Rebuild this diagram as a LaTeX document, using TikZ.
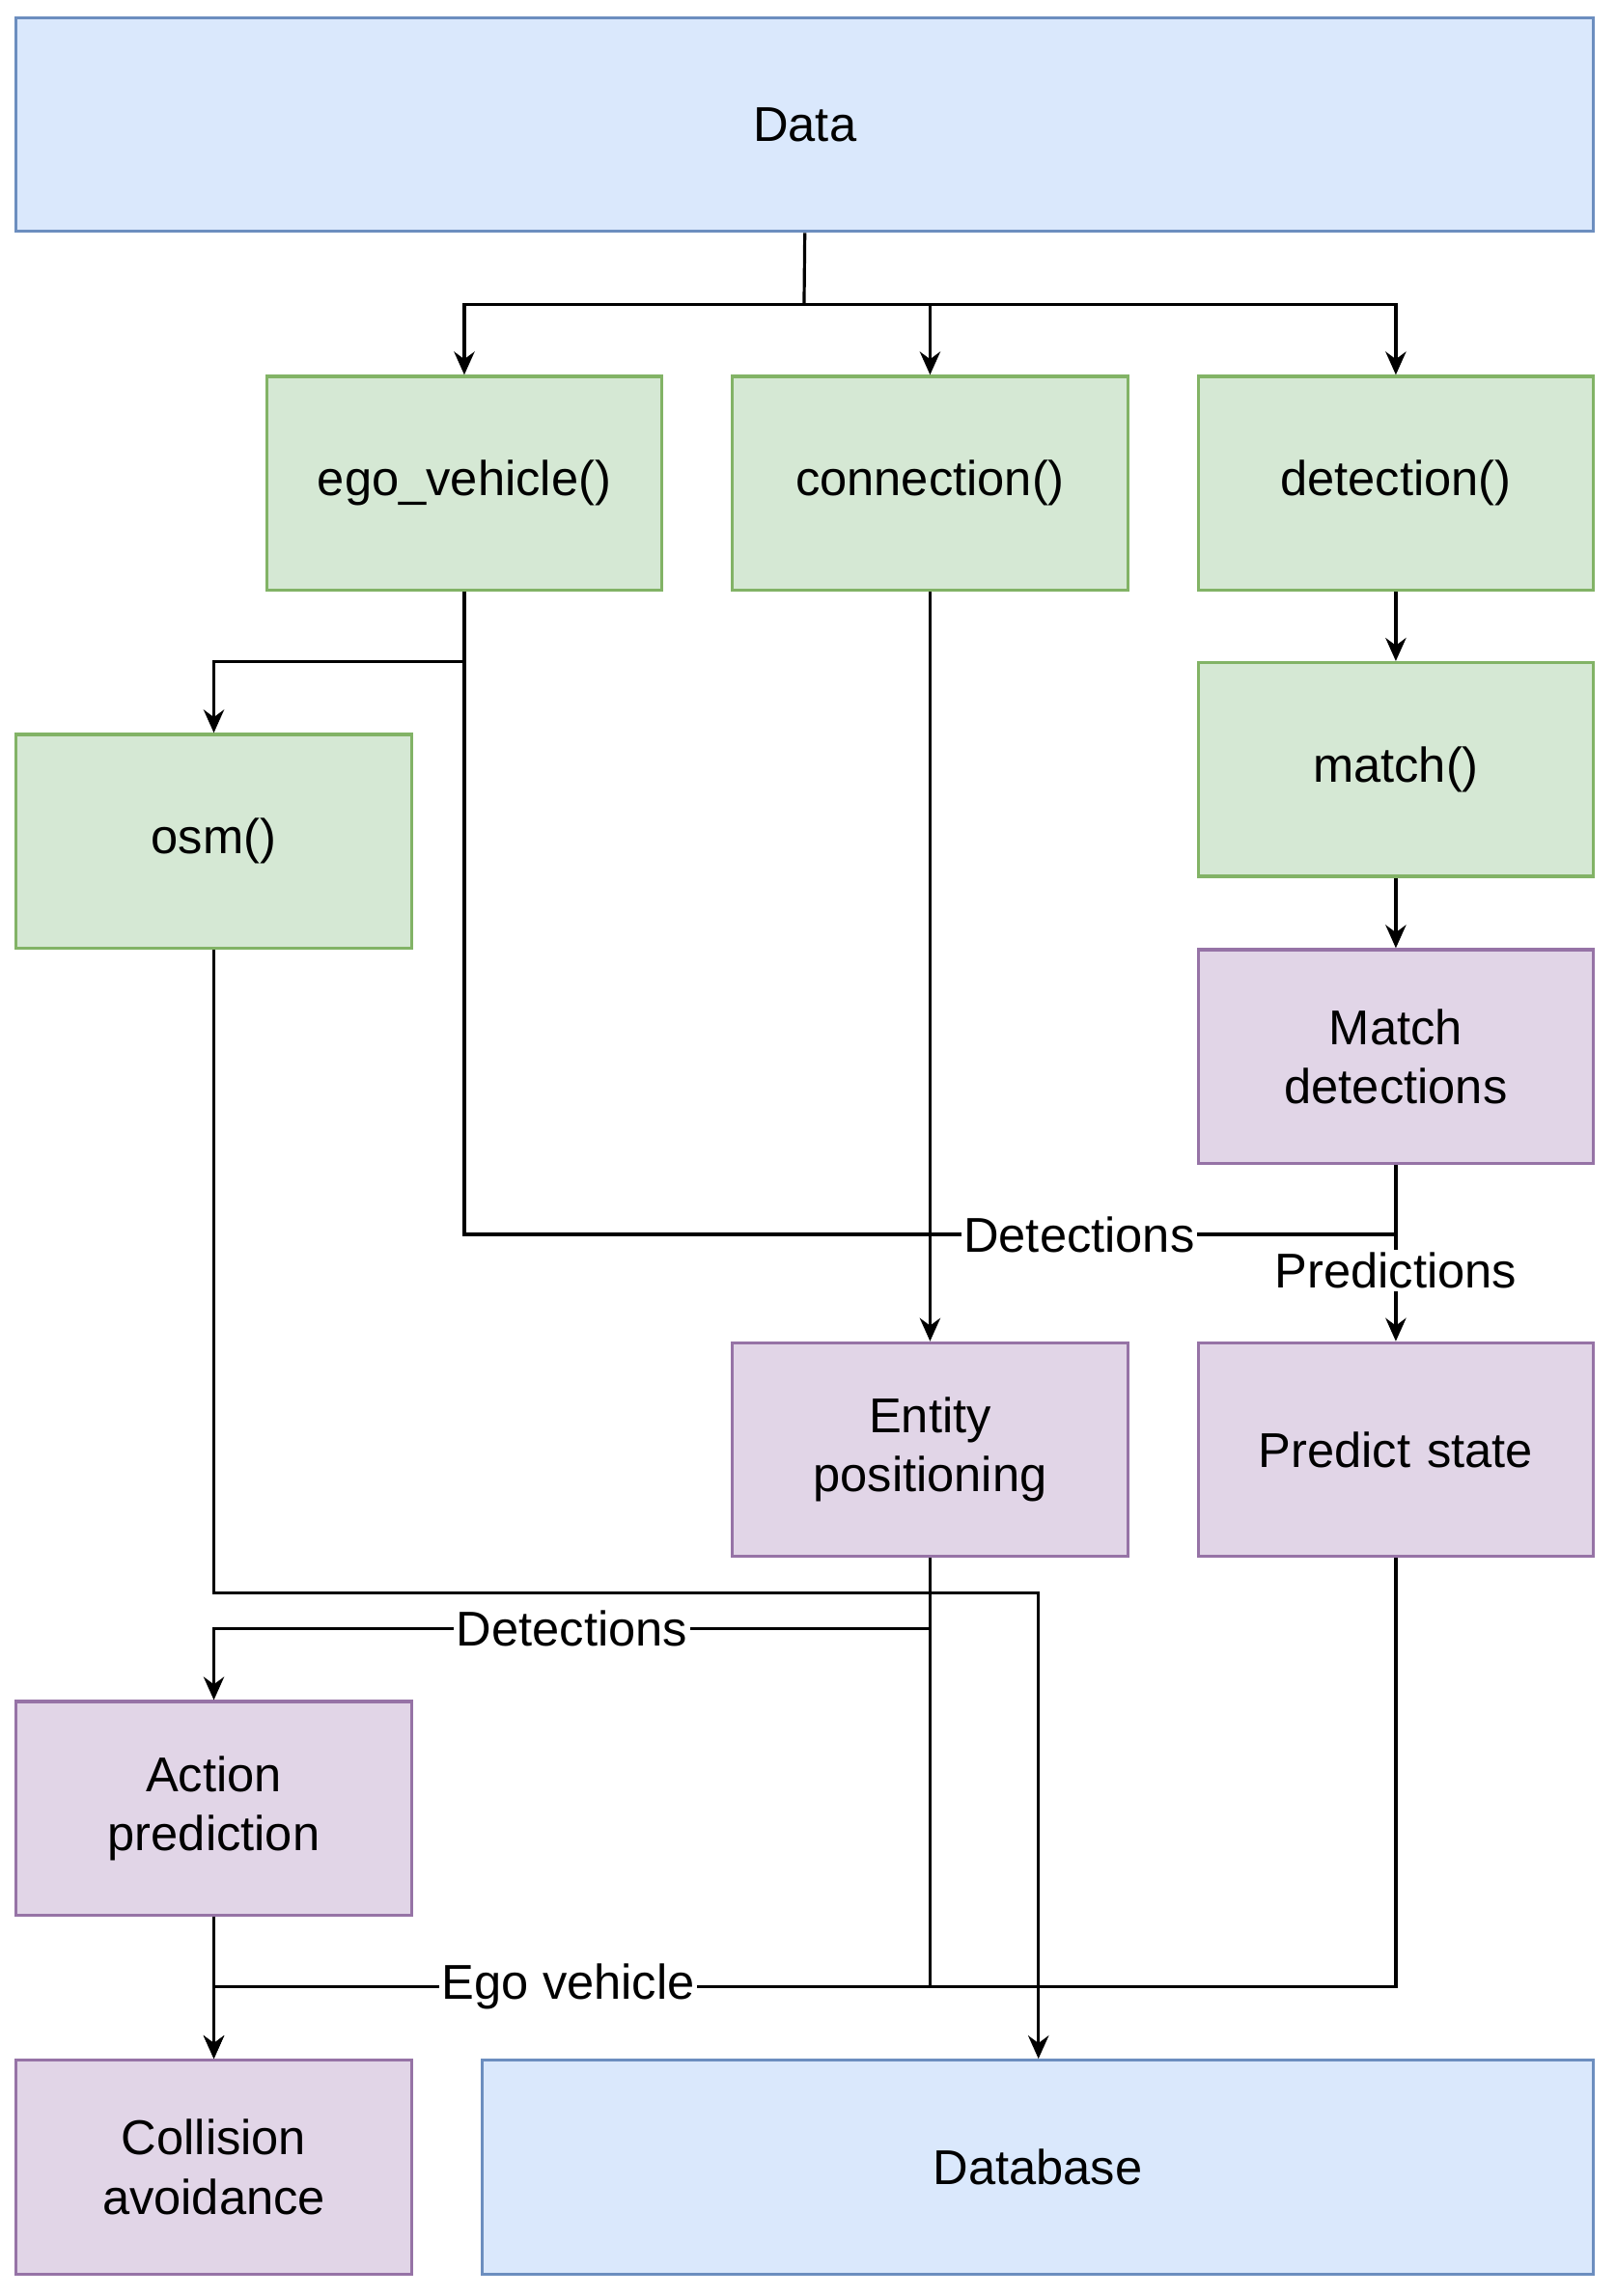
\documentclass[tikz,border=0pt]{standalone}
\usepackage{fontspec}
\setmainfont{Liberation Sans}
\usetikzlibrary{arrows.meta}
\definecolor{bluefill}{HTML}{DAE8FC}\definecolor{bluedraw}{HTML}{6C8EBF}
\definecolor{greenfill}{HTML}{D5E8D4}\definecolor{greendraw}{HTML}{82B366}
\definecolor{purplefill}{HTML}{E1D5E7}\definecolor{purpledraw}{HTML}{9673A6}
\tikzset{
  box/.style={draw,line width=1.2pt,minimum height=2.92cm,text width=5cm,align=center,
    font=\fontsize{19}{23}\selectfont,inner sep=0pt},
  bluebox/.style={box,fill=bluefill,draw=bluedraw},
  greenbox/.style={box,fill=greenfill,draw=greendraw,minimum width=5.4cm},
  purplebox/.style={box,fill=purplefill,draw=purpledraw,minimum width=5.4cm},
  line/.style={line width=1.2pt},
  arr/.style={line,-{Stealth[length=9pt,width=8pt]}},
  lbl/.style={fill=white,font=\fontsize{19}{23}\selectfont,inner sep=1pt}
}
\begin{document}
\begin{tikzpicture}[x=0.02cm,y=-0.02cm]
	\useasboundingbox (0,0) rectangle (1103,1568);

	\node[bluebox,minimum width=21.54cm] (data) at (549.5,85) {Data};
	\node[greenbox] (ego) at (317,330) {ego\_vehicle()};
	\node[greenbox] (conn) at (635,330) {connection()};
	\node[greenbox] (det) at (953,330) {detection()};
	\node[greenbox] (match) at (953,525.5) {match()};
	\node[greenbox] (osm) at (146,574.5) {osm()};
	\node[purplebox] (md) at (953,721.5) {Match\\detections};
	\node[purplebox] (ent) at (635,990) {Entity\\positioning};
	\node[purplebox] (ps) at (953,990) {Predict state};
	\node[purplebox] (act) at (146,1235) {Action\\prediction};
	\node[purplebox] (col) at (146,1480) {Collision\\avoidance};
	\node[bluebox,minimum width=15.18cm] (db) at (708.5,1480) {Database};

	\coordinate (split) at (549,208);
	\draw[line] (data.south) -- (split);
	\draw[arr] (split) -| (ego.north);
	\draw[arr] (split) -| (conn.north);
	\draw[arr] (split) -| (det.north);
	\draw[arr] (det) -- (match);
	\draw[arr] (match) -- (md);
	\draw[arr] (ego.south) |- (146,452) -- (osm.north);
	\draw[arr] (conn.south) -- (ent.north);

	\draw[line] (ego.south) |- (953,843) node[lbl,pos=0.83] {Detections};
	\draw[arr] (md.south) -- (ps.north) node[lbl,pos=0.6] {Predictions};

	\draw[arr] (osm.south) |- (709,1088) -- (db.north -| 709,0);
	\draw[arr] (ent.south) |- (act.north |- 0,1112) node[lbl,pos=0.75] {Detections} -- (act.north);
	\draw[line] (ent.south) -- (635,1357);
	\draw[arr] (ps.south) |- (col.north |- 0,1357) node[lbl,pos=0.85] {Ego vehicle} -- (col.north);
	\draw[arr] (act.south) -- (col.north);
\end{tikzpicture}
\end{document}
